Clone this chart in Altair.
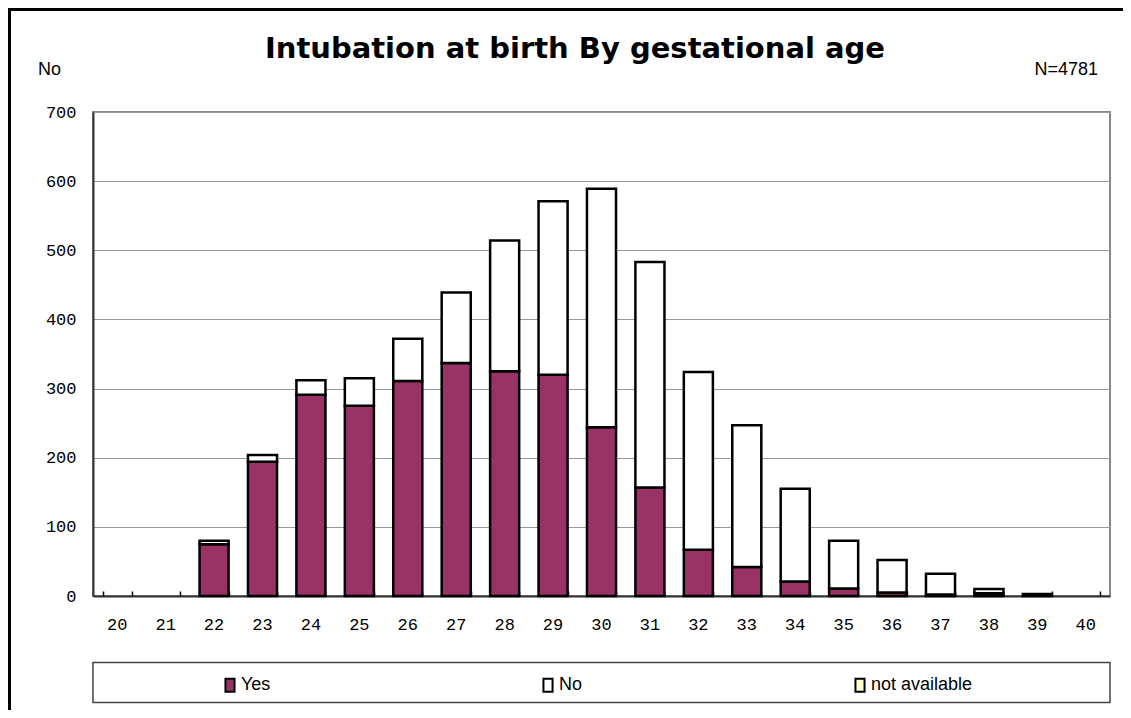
import altair as alt
import pandas as pd

# ---- data ----
ages = ["20", "21", "22", "23", "24", "25", "26", "27", "28", "29", "30",
        "31", "32", "33", "34", "35", "36", "37", "38", "39", "40"]
yes = [0, 0, 75, 194, 291, 275, 311, 337, 325, 320, 244,
       157, 67, 42, 21, 11, 5, 2, 4, 3, 0]
no = [0, 0, 5, 10, 21, 40, 61, 102, 189, 251, 345,
      326, 257, 205, 134, 69, 47, 30, 6, 0, 0]
not_available = [0, 0, 0, 0, 0, 0, 0, 0, 0, 0, 0,
                 0, 0, 0, 0, 0, 0, 0, 0, 0, 0]
statuses = ["Yes", "No", "not available"]
status_colors = ["#993366", "#FFFFFF", "#FFFFCC"]
y_ticks = [0, 100, 200, 300, 400, 500, 600, 700]

title_text = "Intubation at birth By gestational age"
left_note = "No"
right_note = "N=4781"

rows = []
for i, a in enumerate(ages):
    for k, (name, vals) in enumerate(zip(statuses, [yes, no, not_available])):
        if vals[i] > 0:
            rows.append({"age": a, "status": name, "count": vals[i], "ord": k})
df = pd.DataFrame(rows)
ages_df = pd.DataFrame({"age": ages})

W, H = 1017, 484
xscale = alt.Scale(domain=ages, paddingInner=0.4, paddingOuter=0.2)
mono = "Liberation Mono"
sans = "Liberation Sans"

bars = alt.Chart(df).mark_bar(stroke="black", strokeWidth=2.5).encode(
    x=alt.X("age:N", scale=xscale,
            axis=alt.Axis(title=None, orient="bottom", ticks=False, labelAngle=0,
                          labelFont=mono, labelFontSize=17, labelColor="black",
                          labelPadding=20, domainColor="#333", domainWidth=2)),
    y=alt.Y("count:Q", stack="zero", scale=alt.Scale(domain=[0, 700], nice=False),
            axis=alt.Axis(title=None, values=y_ticks, ticks=False, labelFont=mono,
                          labelFontSize=17, labelColor="black", labelPadding=17,
                          grid=True, gridColor="#999", gridWidth=1.2,
                          domainColor="#333", domainWidth=2)),
    color=alt.Color("status:N", scale=alt.Scale(domain=statuses, range=status_colors),
                    legend=alt.Legend(title=None, orient="none", legendX=128, legendY=564,
                                      direction="horizontal", columns=3, columnPadding=268,
                                      symbolType="M-0.7,-1L0.7,-1L0.7,1L-0.7,1Z",
                                      symbolSize=169, symbolStrokeColor="black",
                                      symbolStrokeWidth=2, labelFont=sans, labelFontSize=18,
                                      labelColor="black", labelOffset=2, padding=0)),
    order=alt.Order("ord:Q", sort="ascending"),
)

inner_ticks = alt.Chart(ages_df).mark_point(opacity=0).encode(
    x=alt.X("age:N", scale=xscale,
            axis=alt.Axis(title=None, orient="top", offset=-H, labels=False, domain=False,
                          grid=False, tickBand="extent", tickSize=5, tickColor="black",
                          tickWidth=1.5)),
)

one = pd.DataFrame({"a": [0]})

legend_box = alt.Chart(one).mark_rect(fill="white", stroke="#444", strokeWidth=1.5).encode(
    x=alt.value(0), x2=alt.value(W), y=alt.value(550.5), y2=alt.value(590.5))


def txt(text, x, y, size, weight="normal", align="left", font=sans):
    return alt.Chart(pd.DataFrame({"t": [text]})).mark_text(
        align=align, baseline="alphabetic", font=font, fontSize=size,
        fontWeight=weight, color="black").encode(
        x=alt.value(x), y=alt.value(y), text="t:N")


title = txt(title_text, 482, -54, 29, weight="bold", align="center", font="DejaVu Sans")
note_l = txt(left_note, -55, -37, 18)
note_r = txt(right_note, 1005, -37, 18, align="right")

frame_top = alt.Chart(one).mark_rule(color="black", strokeWidth=3).encode(
    x=alt.value(-85), x2=alt.value(1040), y=alt.value(-102.5))
frame_left = alt.Chart(one).mark_rule(color="black", strokeWidth=3).encode(
    x=alt.value(-83.5), y=alt.value(-104), y2=alt.value(610))

chart = alt.layer(
    legend_box, bars, inner_ticks, title, note_l, note_r, frame_top, frame_left
).properties(
    width=W, height=H,
    padding={"left": 85, "top": 104, "right": 13, "bottom": 114},
    autosize=alt.AutoSizeParams(type="none"),
    background="white",
).configure_view(stroke="#888", strokeWidth=2)

chart.save("out.html", embed_options={"renderer": "svg", "actions": False})
